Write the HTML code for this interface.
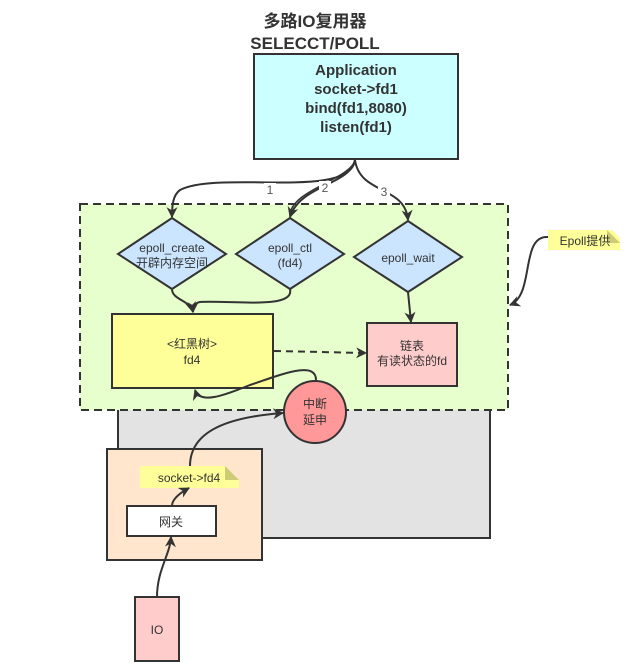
<!DOCTYPE html>
<html><head><meta charset="utf-8"><style>
body{margin:0;background:#fff;}
svg{display:block;font-family:"Liberation Sans","Noto Sans CJK SC",sans-serif;}
</style></head><body>
<svg width="637" height="669" viewBox="0 0 637 669" xmlns="http://www.w3.org/2000/svg">
<defs>
<marker id="a" viewBox="0 0 10 10" refX="9" refY="5" markerWidth="12" markerHeight="11" orient="auto-start-reverse" markerUnits="userSpaceOnUse"><path d="M0,0 L10,5 L0,10 L3,5 z" fill="#333"/></marker>
</defs>
<text x="315" y="27" font-size="17" font-weight="bold" fill="#333" text-anchor="middle">多路IO复用器</text>
<text x="315" y="49" font-size="17" font-weight="bold" fill="#333" text-anchor="middle">SELECCT/POLL</text>
<rect x="254" y="54" width="204" height="105" fill="#ccffff" stroke="#333" stroke-width="2"/>
<g font-size="15" font-weight="bold" fill="#333" text-anchor="middle">
<text x="356" y="75">Application</text>
<text x="356" y="94">socket-&gt;fd1</text>
<text x="356" y="113">bind(fd1,8080)</text>
<text x="356" y="132">listen(fd1)</text>
</g>
<rect x="118" y="400" width="372" height="138" fill="#e3e3e3" stroke="#333" stroke-width="2"/>
<rect x="80" y="204" width="428" height="206" fill="#e6ffcc" stroke="#333" stroke-width="2" stroke-dasharray="8,5"/>
<path d="M355,160 C350,200 220,170 180,190 C173,195 172,205 172,217" fill="none" stroke="#333" stroke-width="2" marker-end="url(#a)"/>
<path d="M355,160 C350,185 300,185 290,217" fill="none" stroke="#333" stroke-width="2" marker-end="url(#a)"/>
<path d="M355,160 C350,180 290,190 290,216" fill="none" stroke="#333" stroke-width="1.5"/>
<path d="M355,160 C360,195 405,185 408,220" fill="none" stroke="#333" stroke-width="2" marker-end="url(#a)"/>
<g font-size="12" fill="#555" text-anchor="middle">
<rect x="264" y="183" width="12" height="13" fill="#fff"/><text x="270" y="194">1</text>
<rect x="319" y="181" width="12" height="13" fill="#fff"/><text x="325" y="192">2</text>
<rect x="378" y="185" width="12" height="13" fill="#fff"/><text x="384" y="196">3</text>
</g>
<polygon points="172,218 226,254 172,289 118,254" fill="#cce5ff" stroke="#333" stroke-width="2"/>
<polygon points="290,218 344,254 290,289 236,254" fill="#cce5ff" stroke="#333" stroke-width="2"/>
<polygon points="408,221 462,257 408,292 354,257" fill="#cce5ff" stroke="#333" stroke-width="2"/>
<g font-size="12" fill="#333" text-anchor="middle">
<text x="172" y="252">epoll_create</text><text x="172" y="267">开辟内存空间</text>
<text x="290" y="252">epoll_ctl</text><text x="290" y="267">(fd4)</text>
<text x="408" y="262">epoll_wait</text>
</g>
<rect x="112" y="314" width="161" height="74" fill="#ffff99" stroke="#333" stroke-width="2"/>
<rect x="367" y="323" width="90" height="63" fill="#ffcccc" stroke="#333" stroke-width="2"/>
<g font-size="12" fill="#333" text-anchor="middle">
<text x="192" y="348">&lt;红黑树&gt;</text><text x="192" y="364">fd4</text>
<text x="412" y="350">链表</text><text x="412" y="365">有读状态的fd</text>
</g>
<path d="M172,289 C172,300 190,300 193,312" fill="none" stroke="#333" stroke-width="2" marker-end="url(#a)"/>
<path d="M290,289 C295,310 230,300 200,302 C195,303 193,306 193,312" fill="none" stroke="#333" stroke-width="2" marker-end="url(#a)"/>
<path d="M408,292 L411,322" fill="none" stroke="#333" stroke-width="2" marker-end="url(#a)"/>
<path d="M274,351 L366,353" fill="none" stroke="#333" stroke-width="2" stroke-dasharray="7,5" marker-end="url(#a)"/>
<path d="M316,380 C316,360 280,375 250,385 C225,395 200,405 195,390" fill="none" stroke="#333" stroke-width="2" marker-end="url(#a)"/>
<rect x="107" y="449" width="155" height="111" fill="#ffe6cc" stroke="#333" stroke-width="2"/>
<path d="M140,466 L225,466 L239,480 L239,488 L140,488 z" fill="#ffff99"/>
<path d="M225,466 L239,480 L225,480 z" fill="#cccc77"/>
<text x="189" y="482" font-size="12" fill="#333" text-anchor="middle">socket-&gt;fd4</text>
<rect x="127" y="506" width="89" height="30" fill="#fff" stroke="#333" stroke-width="2"/>
<text x="171" y="526" font-size="12" fill="#333" text-anchor="middle">网关</text>
<rect x="135" y="597" width="44" height="64" fill="#ffcccc" stroke="#333" stroke-width="2"/>
<text x="157" y="634" font-size="12" fill="#333" text-anchor="middle">IO</text>
<path d="M157,597 C157,570 170,555 171,537" fill="none" stroke="#333" stroke-width="2" marker-end="url(#a)"/>
<path d="M172,506 C172,500 178,494 189,488" fill="none" stroke="#333" stroke-width="2" marker-end="url(#a)"/>
<path d="M190,466 C190,430 230,417 283,413" fill="none" stroke="#333" stroke-width="2" marker-end="url(#a)"/>
<circle cx="315" cy="412" r="31" fill="#ff9999" stroke="#333" stroke-width="2"/>
<text x="315" y="408" font-size="12" fill="#333" text-anchor="middle">中断</text>
<text x="315" y="424" font-size="12" fill="#333" text-anchor="middle">延申</text>
<path d="M548,230 L612,230 L620,238 L620,250 L548,250 z" fill="#ffff99"/>
<path d="M607,230 L620,243 L607,243 z" fill="#cccc77"/>
<text x="585" y="245" font-size="12" fill="#333" text-anchor="middle">Epoll提供</text>
<path d="M548,237 C520,235 535,295 510,305" fill="none" stroke="#333" stroke-width="2" marker-end="url(#a)"/>
</svg>
</body></html>
